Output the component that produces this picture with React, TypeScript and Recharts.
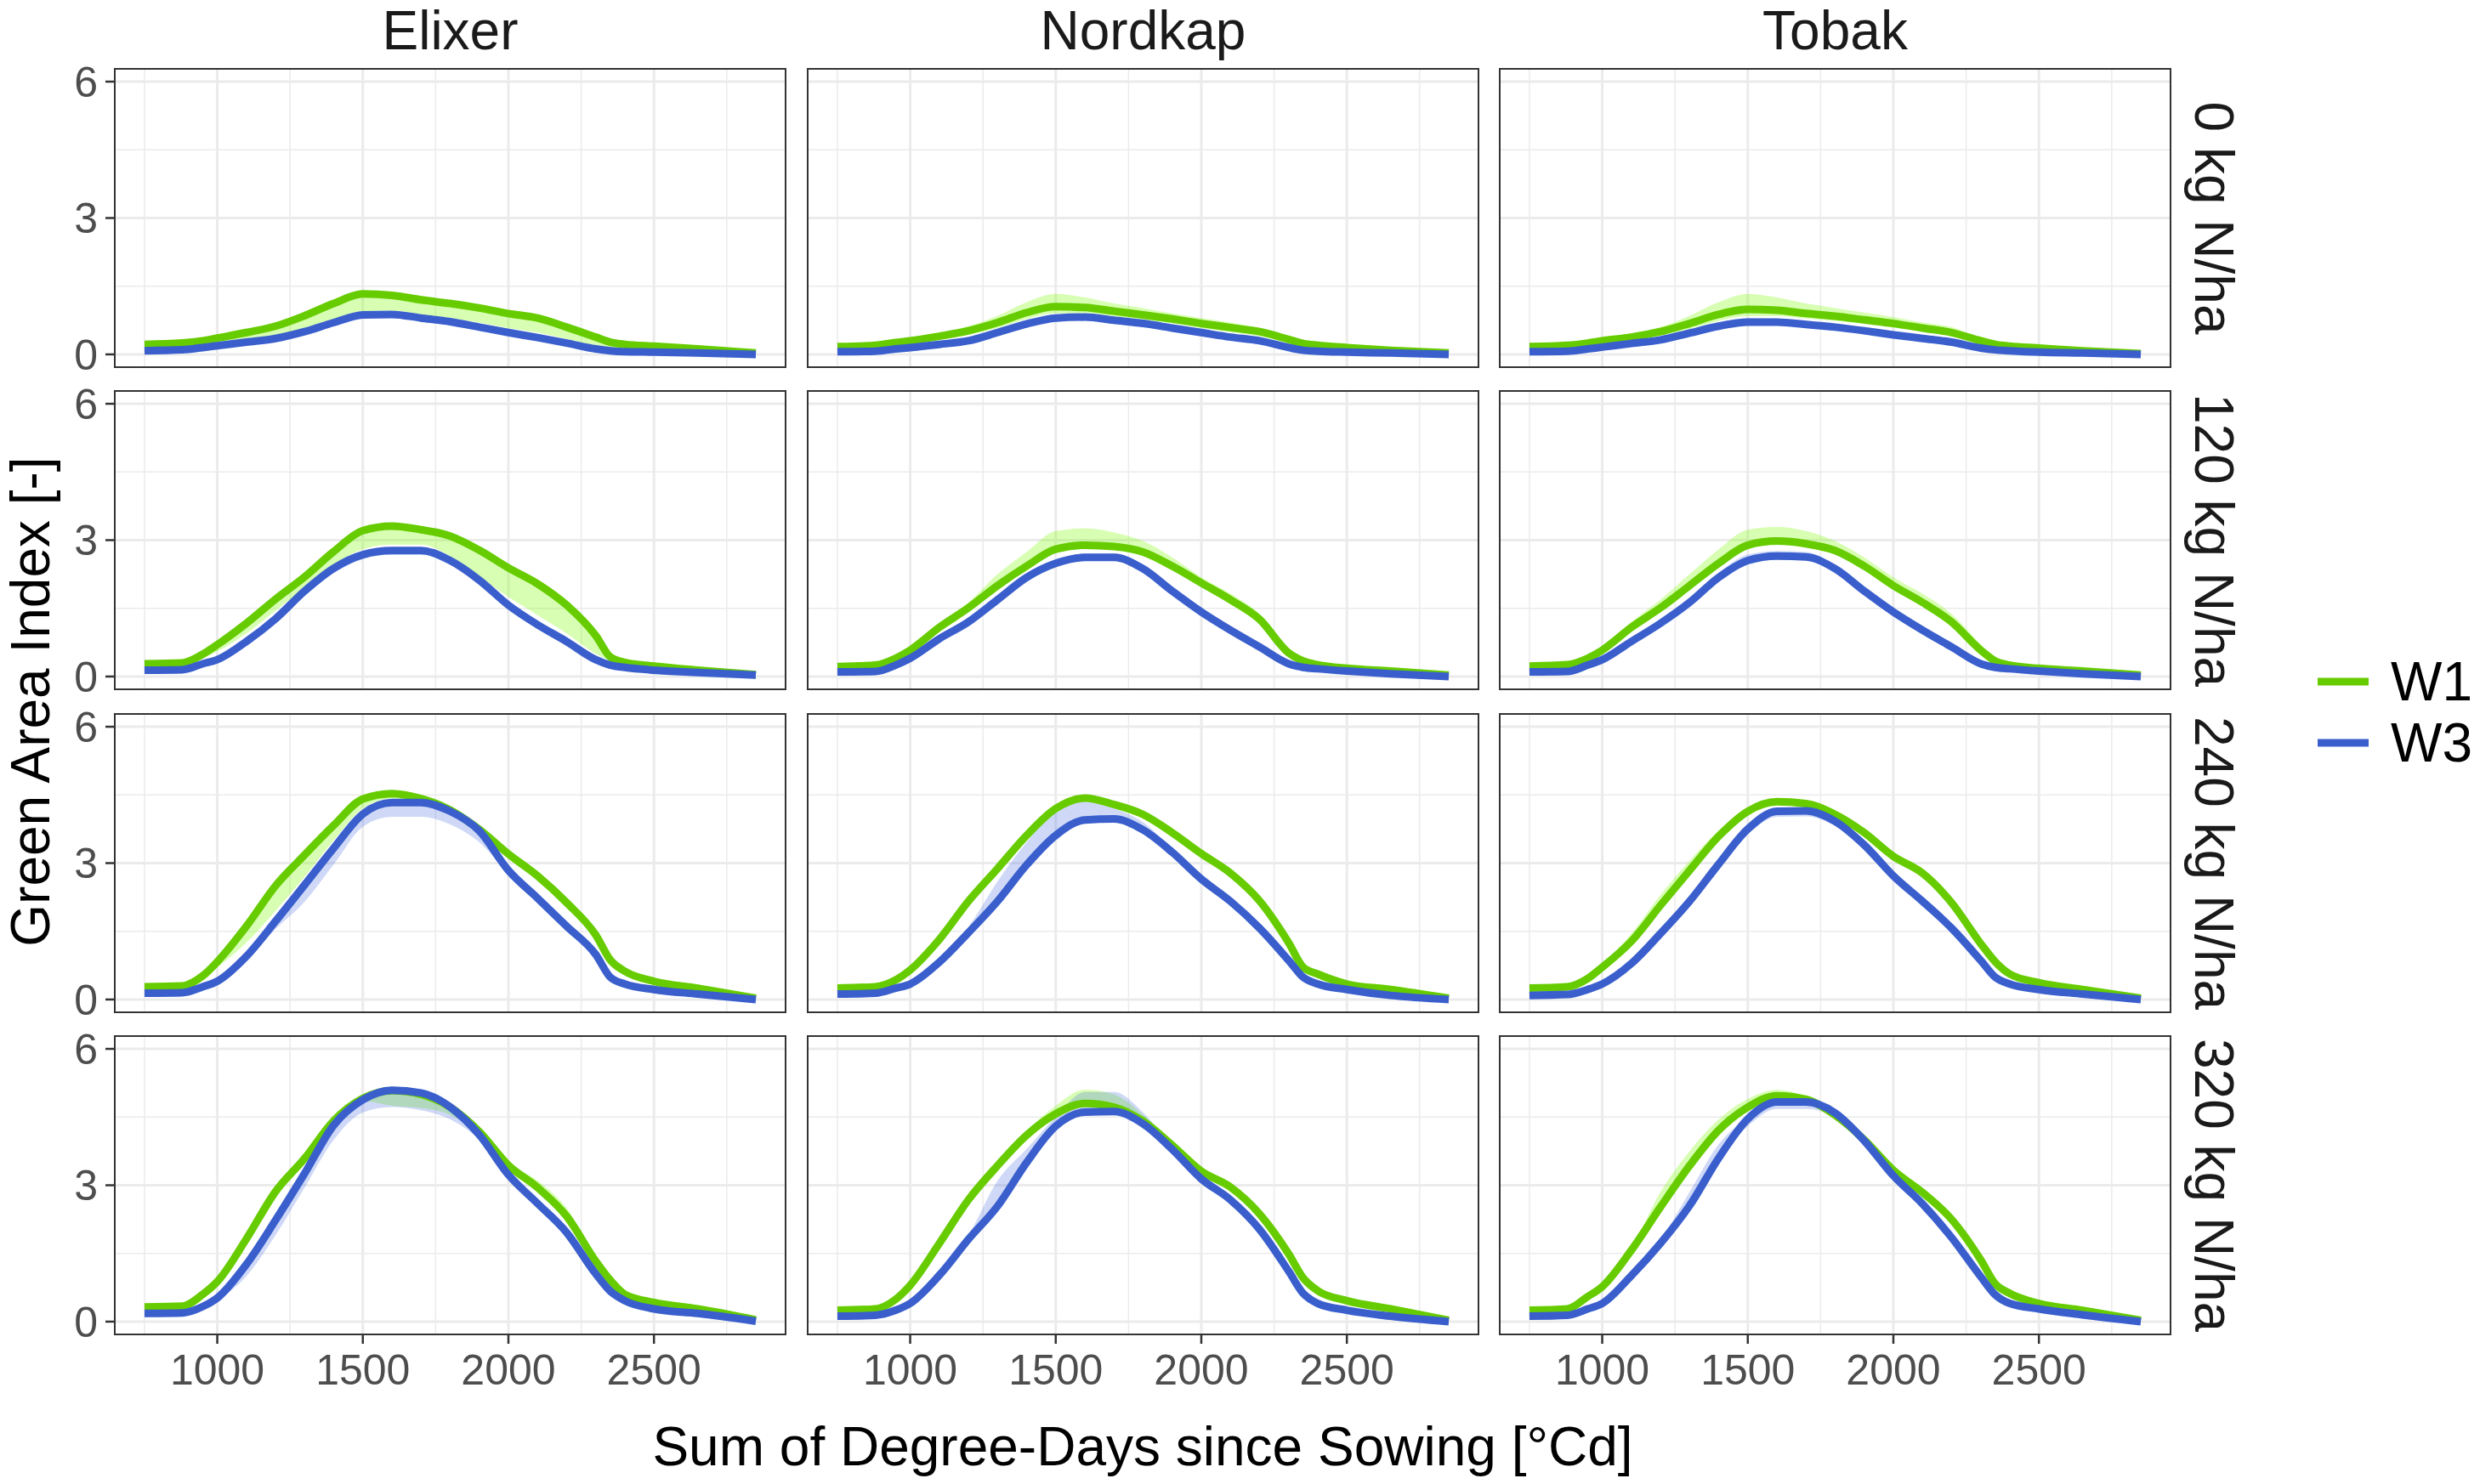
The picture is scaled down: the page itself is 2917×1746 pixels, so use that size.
import React from 'react'
import { ComposedChart, Line, Area, XAxis, YAxis, CartesianGrid } from 'recharts'

// thermal time (°Cd) at which every curve is sampled
const DEGREE_DAYS = [750, 880, 950, 1000, 1100, 1200, 1300, 1400, 1500, 1600, 1700, 1800, 1900, 2000, 2100, 2200, 2300, 2350, 2400, 2500, 2650, 2850]

const CULTIVARS = ['Elixer', 'Nordkap', 'Tobak']
const N_RATES = ['0 kg N/ha', '120 kg N/ha', '240 kg N/ha', '320 kg N/ha']
const TREATMENTS = ['W1', 'W3']

const X_TICKS = [1000, 1500, 2000, 2500]
const X_MINOR = [750, 1250, 1750, 2250, 2750]
const Y_TICKS = [0, 3, 6]
const Y_MINOR = [1.5, 4.5]

// ---- 0 kg N/ha ----
const E0_W1 = [0.22, 0.25, 0.30, 0.36, 0.48, 0.62, 0.85, 1.12, 1.33, 1.30, 1.20, 1.12, 1.02, 0.90, 0.80, 0.60, 0.38, 0.27, 0.22, 0.18, 0.12, 0.03]
const E0_W1_LO = [0.18, 0.20, 0.22, 0.25, 0.32, 0.42, 0.58, 0.78, 0.95, 0.96, 0.88, 0.80, 0.70, 0.58, 0.48, 0.34, 0.20, 0.15, 0.12, 0.10, 0.07, 0.01]
const E0_W1_HI = [0.25, 0.28, 0.33, 0.39, 0.52, 0.66, 0.90, 1.17, 1.38, 1.35, 1.25, 1.16, 1.06, 0.94, 0.84, 0.64, 0.41, 0.30, 0.25, 0.20, 0.14, 0.04]
const E0_W3 = [0.08, 0.10, 0.15, 0.19, 0.27, 0.35, 0.50, 0.70, 0.87, 0.88, 0.80, 0.72, 0.60, 0.48, 0.37, 0.25, 0.12, 0.08, 0.06, 0.05, 0.03, 0.00]
const E0_W3_LO = [0.06, 0.08, 0.12, 0.16, 0.23, 0.31, 0.45, 0.64, 0.80, 0.82, 0.75, 0.67, 0.56, 0.45, 0.34, 0.22, 0.10, 0.06, 0.05, 0.04, 0.02, 0.00]
const E0_W3_HI = [0.10, 0.12, 0.17, 0.21, 0.29, 0.37, 0.52, 0.72, 0.89, 0.90, 0.82, 0.74, 0.62, 0.50, 0.39, 0.27, 0.14, 0.10, 0.08, 0.06, 0.04, 0.01]

const N0_W1 = [0.17, 0.20, 0.26, 0.30, 0.40, 0.52, 0.70, 0.92, 1.05, 1.03, 0.95, 0.87, 0.78, 0.68, 0.59, 0.50, 0.33, 0.24, 0.20, 0.15, 0.09, 0.03]
const N0_W1_LO = [0.15, 0.17, 0.22, 0.25, 0.33, 0.43, 0.58, 0.78, 0.90, 0.90, 0.84, 0.76, 0.68, 0.58, 0.49, 0.40, 0.25, 0.18, 0.15, 0.11, 0.07, 0.02]
const N0_W1_HI = [0.20, 0.23, 0.30, 0.35, 0.47, 0.62, 0.85, 1.15, 1.33, 1.25, 1.12, 1.02, 0.90, 0.80, 0.70, 0.58, 0.38, 0.28, 0.23, 0.18, 0.11, 0.04]
const N0_W3 = [0.06, 0.07, 0.12, 0.15, 0.22, 0.30, 0.48, 0.67, 0.80, 0.82, 0.75, 0.68, 0.58, 0.48, 0.38, 0.30, 0.15, 0.09, 0.07, 0.05, 0.03, 0.00]
const N0_W3_LO = [0.04, 0.05, 0.10, 0.13, 0.19, 0.26, 0.43, 0.61, 0.74, 0.76, 0.70, 0.63, 0.54, 0.44, 0.35, 0.27, 0.13, 0.07, 0.05, 0.04, 0.02, 0.00]
const N0_W3_HI = [0.08, 0.09, 0.14, 0.18, 0.25, 0.34, 0.53, 0.73, 0.87, 0.88, 0.80, 0.72, 0.62, 0.51, 0.41, 0.33, 0.17, 0.11, 0.09, 0.06, 0.04, 0.01]

const T0_W1 = [0.17, 0.20, 0.25, 0.30, 0.38, 0.50, 0.68, 0.88, 0.99, 0.97, 0.90, 0.84, 0.76, 0.68, 0.58, 0.48, 0.30, 0.22, 0.18, 0.14, 0.08, 0.02]
const T0_W1_LO = [0.15, 0.17, 0.21, 0.25, 0.31, 0.41, 0.56, 0.74, 0.84, 0.84, 0.79, 0.74, 0.67, 0.59, 0.50, 0.40, 0.24, 0.17, 0.14, 0.11, 0.06, 0.01]
const T0_W1_HI = [0.20, 0.23, 0.29, 0.35, 0.46, 0.60, 0.85, 1.15, 1.33, 1.25, 1.12, 1.02, 0.92, 0.82, 0.70, 0.60, 0.36, 0.26, 0.21, 0.17, 0.10, 0.03]
const T0_W3 = [0.06, 0.07, 0.12, 0.16, 0.24, 0.32, 0.47, 0.62, 0.71, 0.71, 0.66, 0.60, 0.52, 0.43, 0.35, 0.27, 0.14, 0.10, 0.08, 0.05, 0.03, 0.00]
const T0_W3_LO = [0.04, 0.05, 0.10, 0.14, 0.21, 0.28, 0.42, 0.57, 0.66, 0.66, 0.62, 0.56, 0.48, 0.40, 0.32, 0.24, 0.12, 0.08, 0.06, 0.04, 0.02, 0.00]
const T0_W3_HI = [0.08, 0.09, 0.14, 0.19, 0.28, 0.37, 0.54, 0.71, 0.80, 0.79, 0.72, 0.65, 0.56, 0.47, 0.38, 0.30, 0.16, 0.12, 0.10, 0.06, 0.04, 0.01]

// ---- 120 kg N/ha ----
const E120_W1 = [0.28, 0.30, 0.49, 0.70, 1.17, 1.70, 2.19, 2.75, 3.21, 3.31, 3.23, 3.09, 2.78, 2.39, 2.04, 1.57, 0.90, 0.43, 0.31, 0.23, 0.14, 0.04]
const E120_W1_LO = [0.26, 0.27, 0.40, 0.55, 0.95, 1.45, 1.95, 2.45, 2.80, 2.90, 2.90, 2.65, 2.20, 1.75, 1.35, 0.95, 0.50, 0.35, 0.27, 0.20, 0.12, 0.03]
const E120_W1_HI = [0.30, 0.32, 0.52, 0.74, 1.21, 1.74, 2.23, 2.79, 3.25, 3.35, 3.27, 3.13, 2.82, 2.43, 2.08, 1.61, 0.94, 0.46, 0.33, 0.25, 0.15, 0.05]
const E120_W3 = [0.14, 0.15, 0.28, 0.37, 0.77, 1.27, 1.88, 2.38, 2.68, 2.77, 2.77, 2.55, 2.12, 1.57, 1.14, 0.77, 0.37, 0.25, 0.20, 0.14, 0.09, 0.03]
const E120_W3_LO = [0.12, 0.13, 0.25, 0.33, 0.70, 1.18, 1.78, 2.28, 2.58, 2.68, 2.68, 2.47, 2.05, 1.51, 1.09, 0.73, 0.34, 0.23, 0.18, 0.12, 0.08, 0.02]
const E120_W3_HI = [0.16, 0.17, 0.30, 0.39, 0.80, 1.30, 1.91, 2.41, 2.71, 2.80, 2.80, 2.58, 2.15, 1.60, 1.17, 0.80, 0.39, 0.27, 0.22, 0.16, 0.10, 0.04]

const N120_W1 = [0.22, 0.25, 0.40, 0.58, 1.08, 1.51, 2.00, 2.43, 2.80, 2.89, 2.86, 2.74, 2.43, 2.06, 1.69, 1.26, 0.52, 0.34, 0.26, 0.18, 0.12, 0.03]
const N120_W1_LO = [0.20, 0.23, 0.37, 0.54, 1.02, 1.44, 1.92, 2.35, 2.72, 2.82, 2.80, 2.68, 2.36, 1.98, 1.60, 1.16, 0.46, 0.30, 0.23, 0.16, 0.10, 0.02]
const N120_W1_HI = [0.24, 0.27, 0.44, 0.65, 1.17, 1.63, 2.25, 2.74, 3.20, 3.26, 3.17, 2.98, 2.62, 2.18, 1.82, 1.38, 0.60, 0.38, 0.28, 0.20, 0.13, 0.04]
const N120_W3 = [0.10, 0.11, 0.25, 0.40, 0.83, 1.20, 1.69, 2.18, 2.49, 2.62, 2.62, 2.37, 1.88, 1.42, 1.02, 0.65, 0.28, 0.20, 0.17, 0.12, 0.06, 0.00]
const N120_W3_LO = [0.08, 0.09, 0.22, 0.36, 0.78, 1.14, 1.63, 2.12, 2.44, 2.57, 2.57, 2.32, 1.84, 1.38, 0.98, 0.62, 0.25, 0.18, 0.15, 0.10, 0.05, 0.00]
const N120_W3_HI = [0.12, 0.13, 0.27, 0.42, 0.86, 1.24, 1.73, 2.23, 2.56, 2.70, 2.70, 2.44, 1.93, 1.46, 1.05, 0.68, 0.30, 0.22, 0.19, 0.14, 0.07, 0.01]

const T120_W1 = [0.23, 0.26, 0.40, 0.58, 1.08, 1.51, 2.00, 2.49, 2.89, 2.98, 2.92, 2.77, 2.43, 2.00, 1.63, 1.20, 0.58, 0.34, 0.25, 0.18, 0.12, 0.03]
const T120_W1_LO = [0.21, 0.24, 0.37, 0.54, 1.02, 1.44, 1.92, 2.40, 2.80, 2.90, 2.85, 2.70, 2.36, 1.92, 1.55, 1.12, 0.52, 0.30, 0.22, 0.16, 0.10, 0.02]
const T120_W1_HI = [0.25, 0.28, 0.44, 0.64, 1.20, 1.69, 2.25, 2.80, 3.23, 3.29, 3.20, 2.98, 2.62, 2.18, 1.82, 1.38, 0.71, 0.40, 0.28, 0.20, 0.13, 0.04]
const T120_W3 = [0.10, 0.11, 0.25, 0.37, 0.77, 1.17, 1.63, 2.18, 2.55, 2.65, 2.63, 2.37, 1.88, 1.42, 1.02, 0.65, 0.28, 0.20, 0.17, 0.12, 0.06, 0.00]
const T120_W3_LO = [0.08, 0.09, 0.22, 0.34, 0.73, 1.12, 1.58, 2.13, 2.50, 2.60, 2.58, 2.32, 1.84, 1.38, 0.98, 0.62, 0.25, 0.18, 0.15, 0.10, 0.05, 0.00]
const T120_W3_HI = [0.12, 0.13, 0.27, 0.40, 0.82, 1.24, 1.72, 2.28, 2.68, 2.76, 2.74, 2.46, 1.94, 1.47, 1.06, 0.68, 0.30, 0.22, 0.19, 0.14, 0.07, 0.01]

// ---- 240 kg N/ha ----
const E240_W1 = [0.28, 0.30, 0.52, 0.83, 1.61, 2.50, 3.18, 3.83, 4.41, 4.53, 4.42, 4.17, 3.74, 3.20, 2.72, 2.13, 1.42, 0.87, 0.62, 0.40, 0.25, 0.03]
const E240_W1_LO = [0.26, 0.28, 0.45, 0.70, 1.25, 1.95, 2.70, 3.50, 4.20, 4.42, 4.35, 4.10, 3.65, 3.10, 2.62, 2.03, 1.32, 0.80, 0.57, 0.37, 0.23, 0.02]
const E240_W1_HI = [0.30, 0.32, 0.55, 0.87, 1.65, 2.54, 3.22, 3.87, 4.45, 4.57, 4.46, 4.21, 3.78, 3.24, 2.76, 2.17, 1.46, 0.90, 0.65, 0.42, 0.27, 0.04]
const E240_W3 = [0.14, 0.15, 0.28, 0.40, 0.95, 1.72, 2.52, 3.33, 4.08, 4.33, 4.33, 4.14, 3.71, 2.84, 2.23, 1.61, 0.99, 0.49, 0.34, 0.22, 0.12, 0.00]
const E240_W3_LO = [0.12, 0.13, 0.25, 0.36, 0.88, 1.55, 2.15, 2.97, 3.80, 4.02, 4.02, 3.85, 3.46, 2.78, 2.18, 1.57, 0.95, 0.46, 0.31, 0.20, 0.10, 0.00]
const E240_W3_HI = [0.16, 0.17, 0.30, 0.43, 0.98, 1.75, 2.55, 3.36, 4.11, 4.36, 4.36, 4.17, 3.74, 2.87, 2.26, 1.64, 1.02, 0.52, 0.37, 0.24, 0.14, 0.01]

const N240_W1 = [0.25, 0.28, 0.43, 0.65, 1.32, 2.16, 2.88, 3.61, 4.20, 4.43, 4.29, 4.07, 3.67, 3.21, 2.78, 2.17, 1.25, 0.71, 0.56, 0.34, 0.22, 0.03]
const N240_W1_LO = [0.23, 0.26, 0.40, 0.61, 1.27, 2.10, 2.82, 3.55, 4.15, 4.38, 4.25, 4.03, 3.63, 3.17, 2.74, 2.13, 1.21, 0.68, 0.53, 0.32, 0.20, 0.02]
const N240_W1_HI = [0.27, 0.30, 0.46, 0.69, 1.38, 2.24, 2.96, 3.67, 4.25, 4.47, 4.33, 4.11, 3.71, 3.25, 2.82, 2.21, 1.29, 0.74, 0.59, 0.36, 0.24, 0.04]
const N240_W3 = [0.12, 0.14, 0.25, 0.34, 0.82, 1.47, 2.16, 2.96, 3.61, 3.95, 3.97, 3.73, 3.24, 2.65, 2.16, 1.57, 0.86, 0.49, 0.34, 0.22, 0.09, 0.00]
const N240_W3_LO = [0.10, 0.12, 0.22, 0.31, 0.78, 1.43, 2.12, 2.92, 3.57, 3.91, 3.93, 3.69, 3.20, 2.61, 2.12, 1.53, 0.83, 0.46, 0.31, 0.20, 0.08, 0.00]
const N240_W3_HI = [0.14, 0.16, 0.28, 0.37, 0.88, 1.60, 2.60, 3.46, 4.15, 4.35, 4.20, 3.90, 3.30, 2.70, 2.20, 1.60, 0.90, 0.52, 0.37, 0.24, 0.10, 0.01]

const T240_W1 = [0.25, 0.28, 0.46, 0.71, 1.28, 2.07, 2.84, 3.59, 4.14, 4.35, 4.31, 4.07, 3.67, 3.15, 2.78, 2.13, 1.23, 0.83, 0.56, 0.37, 0.22, 0.03]
const T240_W1_LO = [0.23, 0.26, 0.43, 0.67, 1.23, 2.02, 2.79, 3.54, 4.09, 4.31, 4.27, 4.03, 3.63, 3.11, 2.74, 2.09, 1.19, 0.80, 0.53, 0.35, 0.20, 0.02]
const T240_W1_HI = [0.27, 0.30, 0.50, 0.78, 1.45, 2.30, 3.05, 3.72, 4.20, 4.40, 4.35, 4.11, 3.71, 3.19, 2.82, 2.17, 1.27, 0.86, 0.59, 0.39, 0.24, 0.04]
const T240_W3 = [0.09, 0.11, 0.22, 0.34, 0.79, 1.45, 2.16, 2.98, 3.75, 4.14, 4.15, 3.92, 3.40, 2.72, 2.16, 1.57, 0.86, 0.49, 0.34, 0.22, 0.12, 0.00]
const T240_W3_LO = [0.07, 0.09, 0.19, 0.31, 0.75, 1.40, 2.10, 2.90, 3.63, 4.02, 4.03, 3.82, 3.34, 2.68, 2.12, 1.53, 0.83, 0.46, 0.31, 0.20, 0.10, 0.00]
const T240_W3_HI = [0.11, 0.13, 0.25, 0.37, 0.82, 1.48, 2.19, 3.01, 3.78, 4.17, 4.18, 3.95, 3.43, 2.75, 2.19, 1.60, 0.89, 0.52, 0.37, 0.24, 0.14, 0.01]

// ---- 320 kg N/ha ----
const E320_W1 = [0.32, 0.34, 0.60, 0.88, 1.82, 2.86, 3.59, 4.42, 4.91, 5.08, 5.00, 4.72, 4.18, 3.44, 2.95, 2.32, 1.33, 0.91, 0.60, 0.42, 0.28, 0.04]
const E320_W1_LO = [0.29, 0.31, 0.56, 0.84, 1.77, 2.80, 3.53, 4.36, 4.85, 4.75, 4.70, 4.55, 4.10, 3.40, 2.91, 2.28, 1.29, 0.88, 0.57, 0.40, 0.26, 0.03]
const E320_W1_HI = [0.35, 0.37, 0.64, 0.92, 1.87, 2.92, 3.65, 4.47, 4.96, 5.12, 5.04, 4.76, 4.22, 3.50, 3.10, 2.50, 1.40, 0.95, 0.63, 0.44, 0.30, 0.05]
const E320_W3 = [0.18, 0.19, 0.33, 0.52, 1.26, 2.23, 3.26, 4.32, 4.88, 5.09, 5.03, 4.72, 4.11, 3.23, 2.60, 1.96, 1.05, 0.67, 0.46, 0.28, 0.18, 0.01]
const E320_W3_LO = [0.16, 0.17, 0.30, 0.47, 1.00, 1.90, 2.95, 4.00, 4.60, 4.72, 4.65, 4.45, 4.00, 3.19, 2.56, 1.92, 1.02, 0.64, 0.43, 0.26, 0.16, 0.00]
const E320_W3_HI = [0.20, 0.21, 0.36, 0.55, 1.29, 2.26, 3.29, 4.35, 4.91, 5.12, 5.06, 4.75, 4.14, 3.26, 2.63, 1.99, 1.08, 0.70, 0.49, 0.30, 0.20, 0.02]

const N320_W1 = [0.25, 0.28, 0.49, 0.80, 1.72, 2.68, 3.43, 4.10, 4.57, 4.80, 4.72, 4.41, 3.88, 3.31, 2.96, 2.37, 1.49, 0.96, 0.68, 0.46, 0.28, 0.03]
const N320_W1_LO = [0.23, 0.26, 0.46, 0.76, 1.67, 2.63, 3.38, 4.05, 4.52, 4.75, 4.67, 4.37, 3.84, 3.27, 2.92, 2.33, 1.45, 0.93, 0.65, 0.44, 0.26, 0.02]
const N320_W1_HI = [0.27, 0.30, 0.52, 0.84, 1.77, 2.74, 3.50, 4.20, 4.75, 5.10, 5.00, 4.55, 3.93, 3.35, 3.00, 2.41, 1.53, 0.99, 0.71, 0.48, 0.30, 0.04]
const N320_W3 = [0.12, 0.14, 0.25, 0.40, 1.02, 1.81, 2.54, 3.50, 4.30, 4.61, 4.62, 4.35, 3.79, 3.14, 2.68, 2.03, 1.11, 0.62, 0.40, 0.25, 0.12, 0.00]
const N320_W3_LO = [0.10, 0.12, 0.22, 0.37, 0.98, 1.77, 2.50, 3.46, 4.26, 4.57, 4.58, 4.31, 3.75, 3.10, 2.64, 1.99, 1.08, 0.59, 0.37, 0.23, 0.10, 0.00]
const N320_W3_HI = [0.14, 0.16, 0.28, 0.44, 1.06, 1.90, 3.10, 3.80, 4.50, 5.05, 5.05, 4.60, 3.84, 3.18, 2.72, 2.07, 1.15, 0.65, 0.43, 0.27, 0.14, 0.01]

const T320_W1 = [0.25, 0.28, 0.55, 0.77, 1.57, 2.52, 3.43, 4.21, 4.72, 4.97, 4.89, 4.54, 4.00, 3.33, 2.84, 2.25, 1.36, 0.83, 0.62, 0.40, 0.25, 0.03]
const T320_W1_LO = [0.23, 0.26, 0.52, 0.73, 1.53, 2.47, 3.38, 4.16, 4.67, 4.92, 4.85, 4.50, 3.96, 3.29, 2.80, 2.21, 1.32, 0.80, 0.59, 0.38, 0.23, 0.02]
const T320_W1_HI = [0.27, 0.30, 0.58, 0.81, 1.62, 2.85, 3.75, 4.45, 4.90, 5.10, 4.95, 4.58, 4.04, 3.37, 2.95, 2.35, 1.40, 0.86, 0.65, 0.42, 0.27, 0.04]
const T320_W3 = [0.12, 0.14, 0.28, 0.40, 1.01, 1.72, 2.55, 3.60, 4.46, 4.83, 4.83, 4.59, 3.98, 3.21, 2.59, 1.85, 0.99, 0.59, 0.40, 0.28, 0.15, 0.00]
const T320_W3_LO = [0.10, 0.12, 0.25, 0.37, 0.98, 1.69, 2.52, 3.57, 4.30, 4.68, 4.68, 4.50, 3.95, 3.18, 2.56, 1.82, 0.96, 0.56, 0.37, 0.26, 0.13, 0.00]
const T320_W3_HI = [0.14, 0.16, 0.31, 0.43, 1.04, 1.80, 2.85, 3.90, 4.49, 4.86, 4.86, 4.62, 4.01, 3.24, 2.62, 1.88, 1.02, 0.62, 0.43, 0.30, 0.17, 0.01]

// rows = N rate, columns = cultivar; each entry: W1 mean/lo/hi, W3 mean/lo/hi
const PANEL_SERIES = [
  [
    [E0_W1, E0_W1_LO, E0_W1_HI, E0_W3, E0_W3_LO, E0_W3_HI],
    [N0_W1, N0_W1_LO, N0_W1_HI, N0_W3, N0_W3_LO, N0_W3_HI],
    [T0_W1, T0_W1_LO, T0_W1_HI, T0_W3, T0_W3_LO, T0_W3_HI],
  ],
  [
    [E120_W1, E120_W1_LO, E120_W1_HI, E120_W3, E120_W3_LO, E120_W3_HI],
    [N120_W1, N120_W1_LO, N120_W1_HI, N120_W3, N120_W3_LO, N120_W3_HI],
    [T120_W1, T120_W1_LO, T120_W1_HI, T120_W3, T120_W3_LO, T120_W3_HI],
  ],
  [
    [E240_W1, E240_W1_LO, E240_W1_HI, E240_W3, E240_W3_LO, E240_W3_HI],
    [N240_W1, N240_W1_LO, N240_W1_HI, N240_W3, N240_W3_LO, N240_W3_HI],
    [T240_W1, T240_W1_LO, T240_W1_HI, T240_W3, T240_W3_LO, T240_W3_HI],
  ],
  [
    [E320_W1, E320_W1_LO, E320_W1_HI, E320_W3, E320_W3_LO, E320_W3_HI],
    [N320_W1, N320_W1_LO, N320_W1_HI, N320_W3, N320_W3_LO, N320_W3_HI],
    [T320_W1, T320_W1_LO, T320_W1_HI, T320_W3, T320_W3_LO, T320_W3_HI],
  ],
]

const FONT = '"Liberation Sans", Arial, sans-serif'
const W1_COLOR = '#66CC00'
const W3_COLOR = '#3A5FCD'
const W1_FILL = '#7CFC00'
const W3_FILL = '#4169E1'
const GRID = '#EBEBEB'

const PANEL_W = 791
const PANEL_H = 353
const COL_X = [134, 949, 1763]
const ROW_Y = [80, 459, 839, 1218]
const Y_AXIS_W = 100
const X_AXIS_H = 90
const PAD = 24 // room above/below so the 0 and 6 labels are not clipped
const LINE_W = 9

function buildRows(series: number[][]) {
  const [w1, w1Lo, w1Hi, w3, w3Lo, w3Hi] = series
  return DEGREE_DAYS.map((x, i) => ({
    x,
    w1: w1[i],
    w1Band: [w1Lo[i], w1Hi[i]],
    w3: w3[i],
    w3Band: [w3Lo[i], w3Hi[i]],
  }))
}

function Panel({ row, col }: { row: number; col: number }) {
  const data = buildRows(PANEL_SERIES[row][col])
  const showY = col === 0
  const showX = row === N_RATES.length - 1
  const left = showY ? Y_AXIS_W : 0
  const bottom = showX ? X_AXIS_H : PAD
  const tickStyle = { fontSize: 50, fill: '#4D4D4D', fontFamily: FONT }
  const tickLine = { stroke: '#333333', strokeWidth: 2.5 }

  return (
    <div style={{ position: 'absolute', left: COL_X[col] - left, top: ROW_Y[row] - PAD }}>
      <ComposedChart
        width={PANEL_W + left}
        height={PANEL_H + PAD + bottom}
        data={data}
        margin={{ top: PAD, right: 0, bottom: showX ? 0 : PAD, left: 0 }}
      >
        <XAxis
          type="number"
          dataKey="x"
          domain={[645, 2955]}
          ticks={X_TICKS}
          interval={0}
          hide={!showX}
          height={X_AXIS_H}
          tickSize={10}
          tickMargin={12}
          tick={tickStyle}
          tickLine={tickLine}
          axisLine={false}
          allowDataOverflow
        />
        <YAxis
          type="number"
          domain={[-0.3, 6.3]}
          ticks={Y_TICKS}
          interval={0}
          hide={!showY}
          width={Y_AXIS_W}
          tickSize={10}
          tickMargin={9}
          tick={tickStyle}
          tickLine={tickLine}
          axisLine={false}
          allowDataOverflow
        />
        <CartesianGrid
          horizontalValues={Y_MINOR}
          verticalValues={X_MINOR}
          stroke={GRID}
          strokeWidth={1.5}
          fill="none"
        />
        <CartesianGrid
          horizontalValues={Y_TICKS}
          verticalValues={X_TICKS}
          stroke={GRID}
          strokeWidth={3}
          fill="none"
        />
        <Area
          type="monotone"
          dataKey="w1Band"
          fill={W1_FILL}
          fillOpacity={0.3}
          stroke="none"
          isAnimationActive={false}
        />
        <Area
          type="monotone"
          dataKey="w3Band"
          fill={W3_FILL}
          fillOpacity={0.25}
          stroke="none"
          isAnimationActive={false}
        />
        <Line
          type="monotone"
          dataKey="w1"
          stroke={W1_COLOR}
          strokeWidth={LINE_W}
          dot={false}
          activeDot={false}
          isAnimationActive={false}
        />
        <Line
          type="monotone"
          dataKey="w3"
          stroke={W3_COLOR}
          strokeWidth={LINE_W}
          dot={false}
          activeDot={false}
          isAnimationActive={false}
        />
      </ComposedChart>
      {/* panel border */}
      <div
        style={{
          position: 'absolute',
          left,
          top: PAD,
          width: PANEL_W,
          height: PANEL_H,
          border: '2.5px solid #333333',
          boxSizing: 'border-box',
          pointerEvents: 'none',
        }}
      />
    </div>
  )
}

export default function App() {
  const legendY = [802, 874]
  const panelMidY = (ROW_Y[0] + ROW_Y[ROW_Y.length - 1] + PANEL_H) / 2
  const panelMidX = (COL_X[0] + COL_X[COL_X.length - 1] + PANEL_W) / 2

  return (
    <div
      style={{
        position: 'absolute',
        left: 0,
        top: 0,
        width: 2917,
        height: 1746,
        background: '#ffffff',
        fontFamily: FONT,
        overflow: 'hidden',
      }}
    >
      <svg
        width={2917}
        height={1746}
        style={{ position: 'absolute', left: 0, top: 0 }}
      >
        {CULTIVARS.map((name, c) => (
          <text
            key={name}
            x={COL_X[c] + PANEL_W / 2}
            y={36}
            textAnchor="middle"
            dominantBaseline="central"
            fontSize={64}
            fill="#1A1A1A"
            fontFamily={FONT}
          >
            {name}
          </text>
        ))}
        {N_RATES.map((label, r) => {
          const cx = 2604
          const cy = ROW_Y[r] + PANEL_H / 2
          return (
            <text
              key={label}
              x={cx}
              y={cy}
              transform={`rotate(90, ${cx}, ${cy})`}
              textAnchor="middle"
              dominantBaseline="central"
              fontSize={64}
              fill="#1A1A1A"
              fontFamily={FONT}
            >
              {label}
            </text>
          )
        })}
        <text
          x={36}
          y={panelMidY}
          transform={`rotate(-90, 36, ${panelMidY})`}
          textAnchor="middle"
          dominantBaseline="central"
          fontSize={64}
          fill="#000000"
          fontFamily={FONT}
        >
          Green Area Index [-]
        </text>
        <text
          x={panelMidX}
          y={1702}
          textAnchor="middle"
          dominantBaseline="central"
          fontSize={64}
          fill="#000000"
          fontFamily={FONT}
        >
          Sum of Degree-Days since Sowing [°Cd]
        </text>
        {TREATMENTS.map((t, i) => (
          <g key={t}>
            <line
              x1={2726}
              x2={2786}
              y1={legendY[i]}
              y2={legendY[i]}
              stroke={i === 0 ? W1_COLOR : W3_COLOR}
              strokeWidth={LINE_W}
            />
            <text
              x={2812}
              y={legendY[i]}
              dominantBaseline="central"
              fontSize={64}
              fill="#000000"
              fontFamily={FONT}
            >
              {t}
            </text>
          </g>
        ))}
      </svg>
      {N_RATES.map((_, r) =>
        CULTIVARS.map((__, c) => <Panel key={`${r}-${c}`} row={r} col={c} />)
      )}
    </div>
  )
}
